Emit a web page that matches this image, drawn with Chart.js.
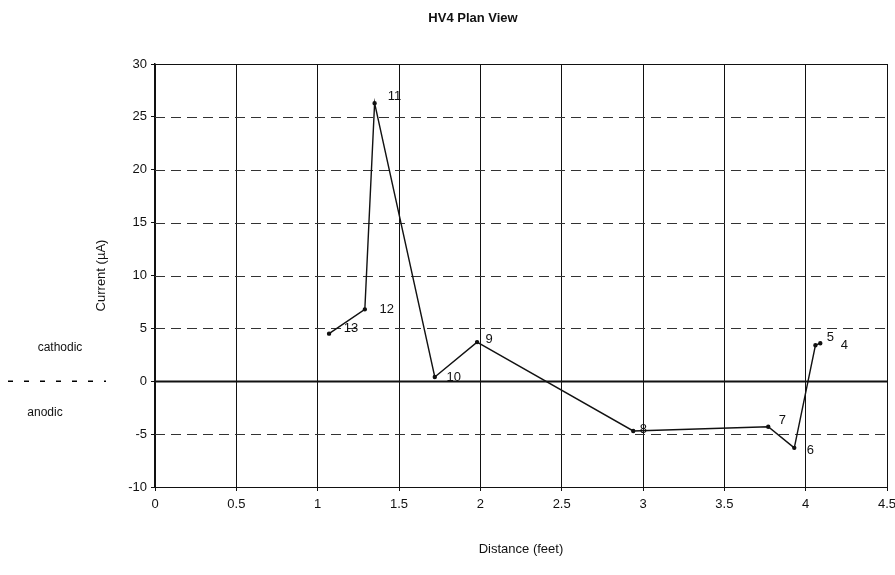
<!DOCTYPE html>
<html>
<head>
<meta charset="utf-8">
<title>HV4 Plan View</title>
<script src="https://cdn.jsdelivr.net/npm/chart.js@4"></script>
<style>
  body { margin: 0; background: #fff; }
  #wrap { width: 895px; height: 575px; }
</style>
</head>
<body>
<div id="wrap"><canvas id="myChart" width="895" height="575"></canvas></div>
<script>
// data (distance in feet, current in µA)
const pointLabels = ['13', '12', '11', '10', '9', '8', '7', '6', '5', '4'];
const distances = [1.07, 1.29, 1.35, 1.72, 1.98, 2.94, 3.77, 3.93, 4.06, 4.09];
const currents = [4.5, 6.8, 26.3, 0.4, 3.7, -4.7, -4.3, -6.3, 3.4, 3.6];

const chartTitle = 'HV4 Plan View';
const xTitle = 'Distance (feet)';
const yTitle = 'Current (µA)';
const upperNote = 'cathodic';
const lowerNote = 'anodic';

// where each point number sits relative to its point (px)
const labelOffsets = [[22, -5], [22, 0], [20, -7], [19, 0], [12, -3], [10, -2], [14, -6], [16, 3], [15, -8], [24, 2]];

const FONT = '"Liberation Sans", Arial, sans-serif';

const points = distances.map((d, i) => ({ x: d, y: currents[i] }));

// dashed horizontal grid, heavy zero line, notes on the left and the title
const extrasPlugin = {
    id: 'extras',
    beforeDatasetsDraw(chart) {
        const { ctx, chartArea, scales } = chart;
        const y = scales.y;
        ctx.save();
        y.ticks.forEach(t => {
            const py = Math.round(y.getPixelForValue(t.value)) + 0.5;
            ctx.beginPath();
            ctx.strokeStyle = '#111';
            if (t.value === 0) {
                ctx.lineWidth = 2;
                ctx.setLineDash([]);
            } else if (t.value === y.max || t.value === y.min) {
                ctx.lineWidth = 1;
                ctx.setLineDash([]);
            } else {
                ctx.lineWidth = 1;
                ctx.strokeStyle = '#333';
                ctx.setLineDash([10, 6]);
            }
            ctx.moveTo(chartArea.left, py);
            ctx.lineTo(chartArea.right, py);
            ctx.stroke();
        });
        ctx.restore();
    },
    afterDraw(chart) {
        const { ctx, scales } = chart;
        const zeroY = scales.y.getPixelForValue(0);
        ctx.save();

        // point numbers
        const meta = chart.getDatasetMeta(0);
        ctx.fillStyle = '#111';
        ctx.font = '13px ' + FONT;
        ctx.textAlign = 'center';
        ctx.textBaseline = 'middle';
        meta.data.forEach((el, i) => {
            ctx.fillText(pointLabels[i], el.x + labelOffsets[i][0], el.y + labelOffsets[i][1]);
        });

        // cathodic / anodic notes
        ctx.font = '12px ' + FONT;
        ctx.fillText(upperNote, 60, zeroY - 34);
        ctx.fillText(lowerNote, 45, zeroY + 31);
        ctx.beginPath();
        ctx.lineWidth = 1.5;
        ctx.setLineDash([5, 11]);
        ctx.moveTo(8, zeroY);
        ctx.lineTo(106, zeroY);
        ctx.stroke();
        ctx.setLineDash([]);

        // title
        ctx.font = 'bold 13px ' + FONT;
        ctx.fillText(chartTitle, 473, 18);
        ctx.restore();
    }
};

const ctx = document.getElementById('myChart').getContext('2d');
const myChart = new Chart(ctx, {
    type: 'line',
    data: {
        datasets: [{
            label: yTitle,
            data: points,
            borderColor: '#111',
            backgroundColor: '#111',
            borderWidth: 1.4,
            pointRadius: 1.5,
            pointHoverRadius: 1.5,
            tension: 0,
            fill: false
        }]
    },
    options: {
        responsive: false,
        animation: false,
        events: [],
        layout: {
            padding: { left: 90, top: 64, right: 0, bottom: 14 }
        },
        plugins: {
            legend: { display: false },
            title: { display: false },
            tooltip: { enabled: false }
        },
        scales: {
            x: {
                type: 'linear',
                min: 0,
                max: 4.5,
                afterFit(scale) {
                    scale.height = 74;
                    scale.paddingRight = 8;
                },
                ticks: {
                    stepSize: 0.5,
                    color: '#111',
                    padding: 6,
                    maxRotation: 0,
                    font: { family: FONT, size: 13 },
                    callback: v => String(v)
                },
                grid: {
                    color: '#111',
                    lineWidth: 1,
                    tickLength: 4,
                    tickColor: '#111'
                },
                border: { color: '#111', width: 1 },
                title: {
                    display: true,
                    text: xTitle,
                    color: '#111',
                    font: { family: FONT, size: 13 }
                }
            },
            y: {
                min: -10,
                max: 30,
                afterFit(scale) { scale.width = 65; },
                ticks: {
                    stepSize: 5,
                    color: '#111',
                    padding: 4,
                    font: { family: FONT, size: 13 }
                },
                grid: {
                    color: 'rgba(0,0,0,0)',
                    tickLength: 4,
                    tickColor: '#111'
                },
                border: { color: '#111', width: 1.5 },
                title: {
                    display: true,
                    text: yTitle,
                    color: '#111',
                    font: { family: FONT, size: 13 }
                }
            }
        }
    },
    plugins: [extrasPlugin]
});
</script>
</body>
</html>
